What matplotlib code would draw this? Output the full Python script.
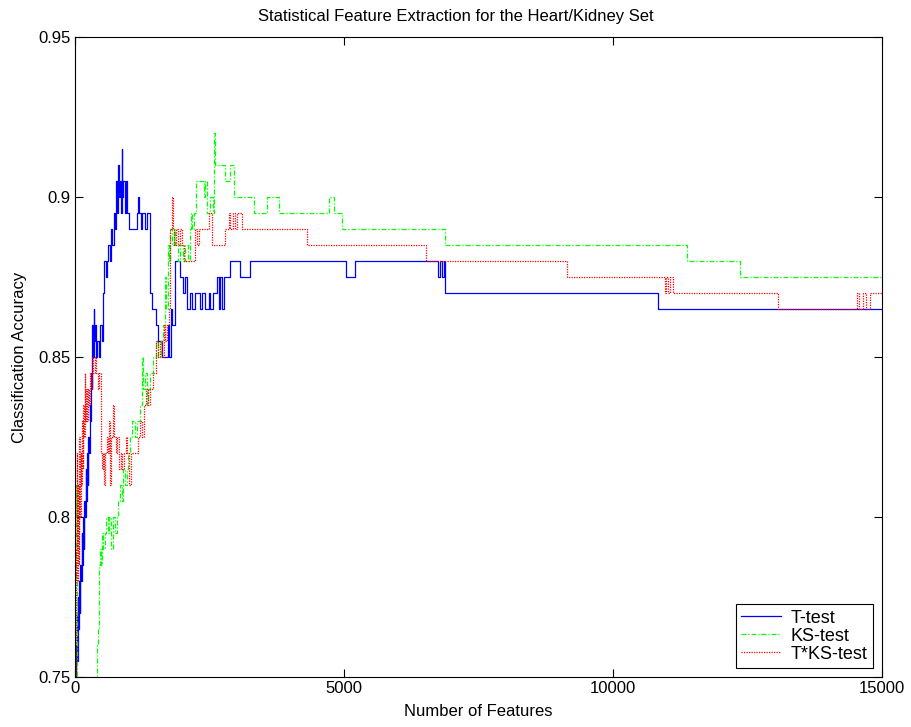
import matplotlib.pyplot as plt

plt.rcParams['font.family'] = ['Liberation Sans', 'DejaVu Sans']

# step data: number of features where the accuracy changes, and the new accuracy
t_feat = [0, 19, 31, 43, 50, 62, 75, 87, 99, 112, 124, 137, 149, 161, 174, 186, 199, 211,
          224, 236, 248, 261, 273, 286, 298, 310, 323, 335, 348, 360, 373, 391, 416, 441,
          466, 497, 528, 547, 571, 596, 621, 646, 671, 696, 720, 745, 764, 782, 801, 820,
          838, 857, 869, 882, 900, 925, 950, 975, 1006, 1149, 1168, 1192, 1223, 1248, 1304,
          1329, 1385, 1422, 1509, 1540, 1615, 1726, 1751, 1782, 1807, 1863, 1956, 2006, 2049,
          2080, 2130, 2173, 2236, 2316, 2360, 2422, 2484, 2515, 2565, 2639, 2670, 2701, 2732,
          2763, 2888, 3074, 3260, 5030, 5205, 6750, 6790, 6820, 6850, 6880, 10844, 15000]
t_acc = [0.75, 0.76, 0.77, 0.755, 0.775, 0.765, 0.78, 0.77, 0.785, 0.78, 0.795, 0.785, 0.8, 0.79,
         0.805, 0.8, 0.815, 0.805, 0.82, 0.81, 0.825, 0.82, 0.835, 0.83, 0.845, 0.84, 0.86, 0.85,
         0.865, 0.855, 0.86, 0.85, 0.855, 0.85, 0.86, 0.855, 0.87, 0.88, 0.875, 0.88, 0.885, 0.88,
         0.89, 0.885, 0.895, 0.89, 0.905, 0.895, 0.91, 0.9, 0.905, 0.895, 0.915, 0.9, 0.905,
         0.895, 0.905, 0.895, 0.89, 0.895, 0.9, 0.895, 0.89, 0.895, 0.89, 0.895, 0.87, 0.865,
         0.86, 0.855, 0.85, 0.86, 0.85, 0.865, 0.86, 0.88, 0.875, 0.87, 0.875, 0.865, 0.87, 0.865,
         0.87, 0.865, 0.87, 0.865, 0.87, 0.865, 0.87, 0.875, 0.865, 0.875, 0.865, 0.875, 0.88,
         0.875, 0.88, 0.875, 0.88, 0.875, 0.88, 0.875, 0.88, 0.87, 0.865, 0.865]

ks_feat = [0, 10, 20, 30, 416, 435, 447, 466, 484, 503, 528, 553, 578, 609, 640, 671, 702, 745,
           776, 807, 838, 869, 900, 931, 962, 994, 1025, 1056, 1118, 1149, 1211, 1242, 1273,
           1304, 1335, 1366, 1397, 1459, 1509, 1552, 1596, 1633, 1664, 1689, 1720, 1745, 1770,
           1801, 1832, 1863, 1906, 1956, 2000, 2049, 2093, 2130, 2155, 2180, 2205, 2242, 2391,
           2422, 2453, 2515, 2565, 2590, 2602, 2795, 2876, 2950, 3322, 3571, 3788, 4720, 4813,
           4969, 6878, 11383, 12362, 15000]
ks_acc = [0.8, 0.81, 0.78, 0.75, 0.76, 0.765, 0.785, 0.79, 0.785, 0.795, 0.79, 0.795, 0.8, 0.795,
          0.8, 0.79, 0.8, 0.795, 0.8, 0.805, 0.81, 0.805, 0.815, 0.81, 0.815, 0.82, 0.825, 0.83,
          0.825, 0.83, 0.835, 0.85, 0.84, 0.845, 0.835, 0.84, 0.845, 0.85, 0.855, 0.85, 0.855,
          0.86, 0.875, 0.865, 0.885, 0.88, 0.89, 0.885, 0.89, 0.885, 0.88, 0.885, 0.88, 0.885,
          0.88, 0.89, 0.895, 0.89, 0.895, 0.905, 0.9, 0.905, 0.895, 0.9, 0.895, 0.92, 0.91,
          0.905, 0.91, 0.9, 0.895, 0.9, 0.895, 0.9, 0.895, 0.89, 0.885, 0.88, 0.875, 0.875]

tks_feat = [0, 19, 31, 43, 56, 68, 81, 93, 106, 118, 130, 143, 155, 168, 180, 193, 205, 230, 248,
            267, 286, 304, 323, 342, 366, 391, 428, 453, 478, 503, 528, 547, 565, 590, 615, 633,
            652, 677, 702, 727, 758, 789, 813, 851, 882, 913, 944, 975, 1012, 1037, 1180, 1211,
            1242, 1286, 1323, 1360, 1397, 1459, 1497, 1534, 1571, 1615, 1646, 1677, 1708, 1739,
            1770, 1795, 1813, 1844, 1881, 1919, 1956, 1987, 2018, 2236, 2267, 2298, 2484, 2546,
            2795, 2857, 2888, 2932, 2969, 3012, 3105, 4310, 6519, 9150, 10968, 10990, 11030,
            11060, 11122, 13075, 14531, 14580, 14650, 14700, 14780, 15000]
tks_acc = [0.75, 0.79, 0.82, 0.78, 0.81, 0.785, 0.825, 0.8, 0.82, 0.81, 0.83, 0.815, 0.835, 0.825,
           0.845, 0.83, 0.84, 0.83, 0.84, 0.835, 0.845, 0.84, 0.85, 0.845, 0.85, 0.845, 0.84,
           0.845, 0.82, 0.815, 0.82, 0.81, 0.82, 0.825, 0.82, 0.83, 0.81, 0.825, 0.835, 0.825,
           0.82, 0.825, 0.815, 0.82, 0.815, 0.82, 0.825, 0.82, 0.81, 0.82, 0.825, 0.83, 0.825,
           0.835, 0.84, 0.835, 0.84, 0.845, 0.855, 0.85, 0.855, 0.85, 0.86, 0.855, 0.86, 0.865,
           0.89, 0.9, 0.89, 0.885, 0.89, 0.885, 0.89, 0.885, 0.88, 0.89, 0.885, 0.89, 0.895,
           0.885, 0.89, 0.895, 0.89, 0.895, 0.89, 0.895, 0.89, 0.885, 0.88, 0.875, 0.87, 0.875,
           0.87, 0.875, 0.87, 0.865, 0.87, 0.865, 0.87, 0.865, 0.87, 0.87]

x_ticks = [0, 5000, 10000, 15000]
y_ticks = [0.75, 0.8, 0.85, 0.9, 0.95]
y_tick_labels = ['0.75', '0.8', '0.85', '0.9', '0.95']

fig = plt.figure(figsize=(9.12, 7.27), dpi=100)
ax = fig.add_axes([75 / 912, 50 / 727, 807 / 912, 640 / 727])

ax.plot(t_feat, t_acc, drawstyle='steps-post', color=(0, 0, 1), lw=0.9, label='T-test')
ax.plot(ks_feat, ks_acc, drawstyle='steps-post', color=(0, 1, 0), lw=0.9,
        linestyle=(0, (4, 1.5, 1, 1.5)), label='KS-test')
ax.plot(tks_feat, tks_acc, drawstyle='steps-post', color=(1, 0, 0), lw=0.9,
        linestyle=(0, (1, 1)), label='T*KS-test')

ax.set_xlim(0, 15000)
ax.set_ylim(0.75, 0.95)
ax.set_xticks(x_ticks)
ax.set_xticklabels([str(v) for v in x_ticks])
ax.set_yticks(y_ticks)
ax.set_yticklabels(y_tick_labels)
ax.tick_params(direction='in', length=6, width=0.8, top=True, right=True, labelsize=12, pad=3)
for s in ax.spines.values():
    s.set_linewidth(0.8)

ax.set_xlabel('Number of Features', fontsize=12, labelpad=6)
ax.set_ylabel('Classification Accuracy', fontsize=12, labelpad=8)
fig.text(0.5, 1 - 17 / 727, 'Statistical Feature Extraction for the Heart/Kidney Set',
         fontsize=12, ha='center', va='center')

leg = ax.legend(loc='lower right', fontsize=13, fancybox=False, framealpha=1,
                edgecolor='black', borderaxespad=0.5, handlelength=2.2,
                handletextpad=0.55, labelspacing=0.05, borderpad=0.3)
leg.get_frame().set_linewidth(0.8)

fig.savefig('out.png', dpi=100)
